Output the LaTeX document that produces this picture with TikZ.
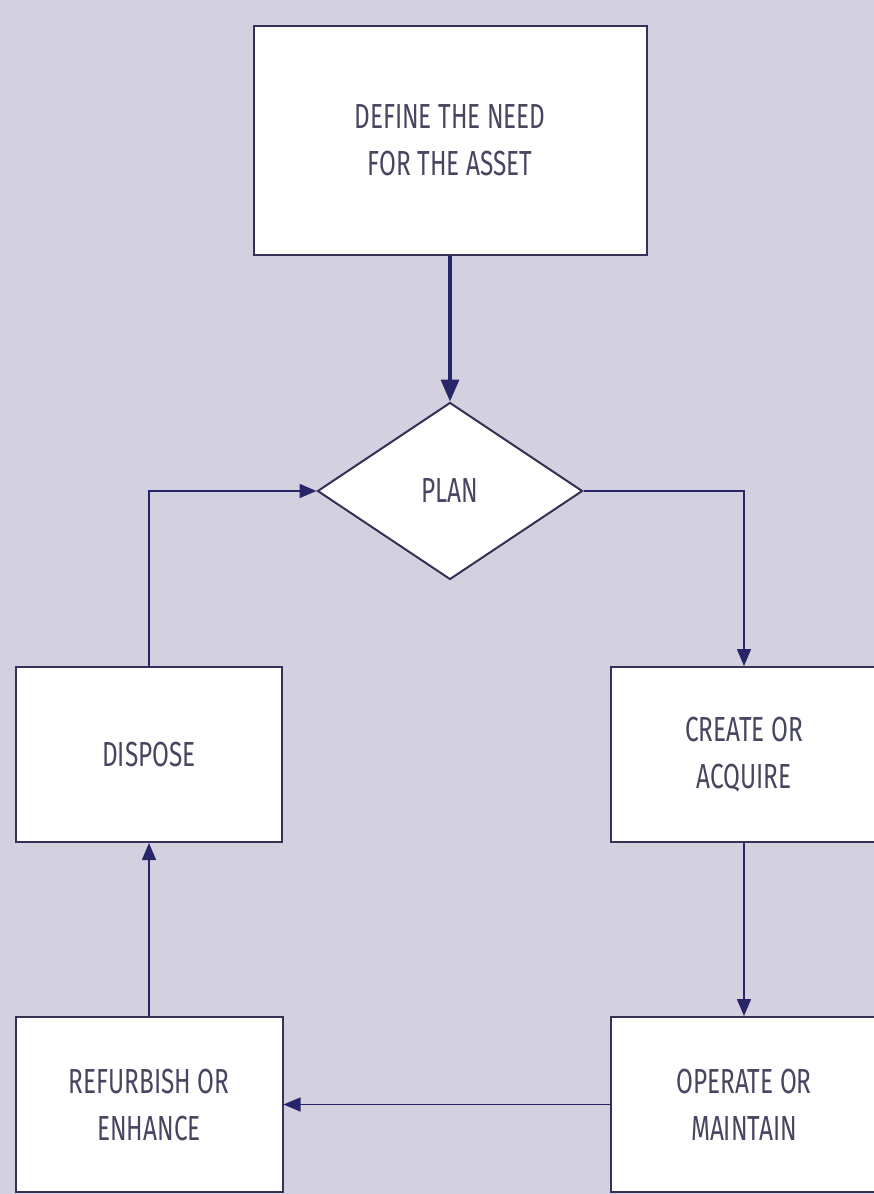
\documentclass[tikz,border=0pt]{standalone}
\usepackage{fontspec}
\setmainfont{Fira Sans}[FakeStretch=0.70]
\usetikzlibrary{shapes.geometric,arrows.meta}
\definecolor{bg}{RGB}{211,209,223}
\definecolor{navy}{RGB}{40,38,104}
\definecolor{edge}{RGB}{52,50,86}
\definecolor{ink}{RGB}{70,70,96}
\tikzset{
  stage/.style={draw=edge,line width=2pt,fill=white,inner sep=0pt,
    text=ink,align=center,font=\fontsize{34.8}{47}\selectfont},
  link/.style={draw=navy,line width=1.6pt,
    -{Triangle[length=17pt,width=14pt]}},
  mainlink/.style={draw=navy,line width=3.4pt,
    -{Triangle[length=22pt,width=18pt]}}
}
\begin{document}
\begin{tikzpicture}[x=1pt,y=-1pt]
\fill[bg] (0,0) rectangle (874,1194);
\useasboundingbox (0,0) rectangle (874,1194);

\node[stage,minimum width=393pt,minimum height=229pt] (need) at (450,140.5)
  {DEFINE THE NEED\\FOR THE ASSET};
\node[stage,diamond,minimum width=265pt,minimum height=177pt] (plan) at (450,491)
  {PLAN};
\node[stage,minimum width=266pt,minimum height=175pt] (dispose) at (149,754.5)
  {DISPOSE};
\node[stage,minimum width=266pt,minimum height=175pt] (create) at (744,754.5)
  {CREATE OR\\ACQUIRE};
\node[stage,minimum width=267pt,minimum height=175pt] (refurb) at (149,1104.5)
  {REFURBISH OR\\ENHANCE};
\node[stage,minimum width=266pt,minimum height=175pt] (operate) at (744,1104.5)
  {OPERATE OR\\MAINTAIN};

\draw[mainlink] (need.south) -- (plan.north);
\draw[link] (plan.east) -| (create.north);
\draw[link] (create.south) -- (operate.north);
\draw[link] (operate.west) -- (refurb.east);
\draw[link] (refurb.north) -- (dispose.south);
\draw[link] (dispose.north) |- (plan.west);
\end{tikzpicture}
\end{document}
